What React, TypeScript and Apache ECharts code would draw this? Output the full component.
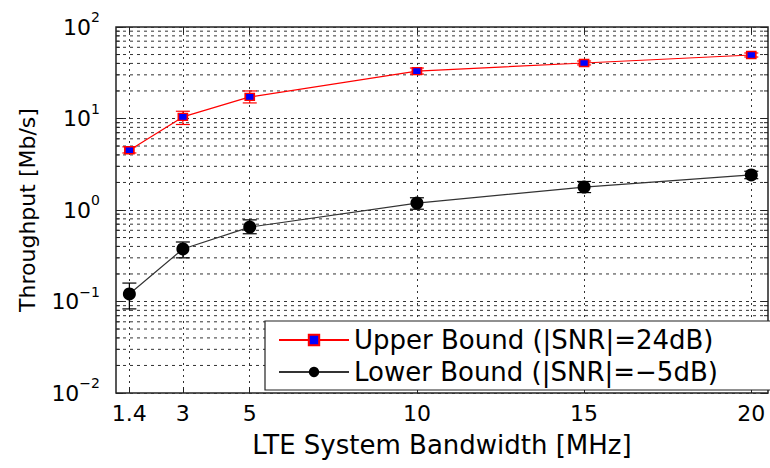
import React, { useEffect, useRef } from "react";
import * as echarts from "echarts";

const xTicks = [1.4, 3, 5, 10, 15, 20];
const bandwidth = [1.4, 3, 5, 10, 15, 20];
const upperMean = [4.5, 10.4, 17.2, 33, 40.4, 49.4];
const upperLow = [4.2, 8.6, 14.8, 30.6, 38.5, 47];
const upperHigh = [4.9, 12.0, 20.0, 35.6, 42.5, 52];
const lowerMean = [0.121, 0.375, 0.65, 1.19, 1.78, 2.42];
const lowerLow = [0.083, 0.3, 0.55, 1.02, 1.55, 2.2];
const lowerHigh = [0.159, 0.447, 0.78, 1.36, 2.05, 2.65];
const yMinorValues = [
  0.02, 0.03, 0.04, 0.05, 0.06, 0.07, 0.08, 0.09,
  0.2, 0.3, 0.4, 0.5, 0.6, 0.7, 0.8, 0.9,
  2, 3, 4, 5, 6, 7, 8, 9,
  20, 30, 40, 50, 60, 70, 80, 90,
];
const upperName = "Upper Bound (|SNR|=24dB)";
const lowerName = "Lower Bound (|SNR|=\u22125dB)";

const FONT = "DejaVu Sans";
const X_MIN = 1;
const X_MAX = 20.5;
const GRID_COLOR = "#333";

function errorBarSeries(lo: number[], hi: number[], color: string) {
  return {
    type: "custom",
    silent: true,
    z: 3,
    data: bandwidth.map((x, i) => [x, lo[i], hi[i]]),
    encode: { x: 0, y: [1, 2] },
    renderItem: (params: any, api: any) => {
      const p1 = api.coord([api.value(0), api.value(1)]);
      const p2 = api.coord([api.value(0), api.value(2)]);
      const x = p1[0];
      const hw = 7;
      const style = { stroke: color, lineWidth: 1.2 };
      return {
        type: "group",
        children: [
          { type: "line", shape: { x1: x, y1: p1[1], x2: x, y2: p2[1] }, style },
          { type: "line", shape: { x1: x - hw, y1: p1[1], x2: x + hw, y2: p1[1] }, style },
          { type: "line", shape: { x1: x - hw, y1: p2[1], x2: x + hw, y2: p2[1] }, style },
        ],
      };
    },
  };
}

export default function App() {
  const ref = useRef<HTMLDivElement>(null);
  useEffect(() => {
    if (!ref.current) return;
    const chart = echarts.init(ref.current, null, { renderer: "svg" });
    const yLabelFormatter = (v: number) => {
      const e = Math.round(Math.log10(v));
      const s = e < 0 ? "\u2212" + Math.abs(e) : String(e);
      return `{b|10}{s|${s}}`;
    };
    const yRich = {
      b: { fontSize: 22, fontFamily: FONT, color: "#000", verticalAlign: "middle" },
      s: { fontSize: 14, fontFamily: FONT, color: "#000", verticalAlign: "bottom", padding: [0, 0, 20, 0] },
    };
    const option: any = {
      animation: false,
      backgroundColor: "#fff",
      textStyle: { fontFamily: FONT },
      grid: {
        left: 116,
        right: 2,
        top: 27,
        bottom: 75,
        show: true,
        borderColor: "#222",
        borderWidth: 1.5,
        backgroundColor: "transparent",
      },
      legend: {
        orient: "vertical",
        left: 265,
        top: 321,
        data: [upperName, lowerName],
        itemWidth: 70,
        itemHeight: 13,
        itemGap: 6,
        padding: [6, 77, 5, 13],
        backgroundColor: "#fff",
        borderColor: "#222",
        borderWidth: 1.2,
        borderRadius: 0,
        textStyle: { fontSize: 26, fontFamily: FONT, color: "#000" },
        z: 10,
      },
      xAxis: [
        {
          type: "value",
          min: X_MIN,
          max: X_MAX,
          name: "LTE System Bandwidth [MHz]",
          nameLocation: "middle",
          nameGap: 39,
          nameTextStyle: { fontSize: 26, fontFamily: FONT, color: "#000" },
          axisLine: { show: false },
          axisTick: { show: true, inside: true, length: 6, customValues: xTicks, lineStyle: { color: "#222" } },
          axisLabel: {
            customValues: xTicks,
            fontSize: 22,
            fontFamily: FONT,
            color: "#000",
            margin: 9,
            formatter: (v: number) => String(v),
          },
          splitLine: { show: true, lineStyle: { color: GRID_COLOR, type: [2, 4], width: 1 } },
        },
        {
          type: "value",
          position: "top",
          min: X_MIN,
          max: X_MAX,
          axisLine: { show: false },
          axisTick: { show: true, inside: true, length: 6, customValues: xTicks, lineStyle: { color: "#222" } },
          axisLabel: { show: false },
          splitLine: { show: false },
        },
      ],
      yAxis: [
        {
          type: "log",
          logBase: 10,
          min: 0.01,
          max: 100,
          name: "Throughput [Mb/s]",
          nameLocation: "middle",
          nameGap: 78,
          nameTextStyle: { fontSize: 22, fontFamily: FONT, color: "#000" },
          axisLine: { show: false },
          axisTick: { show: true, inside: true, length: 7, lineStyle: { color: "#222" } },
          axisLabel: { formatter: yLabelFormatter, rich: yRich, margin: 16 },
          splitLine: { show: true, lineStyle: { color: GRID_COLOR, type: [3, 4], width: 1 } },
        },
        {
          type: "log",
          logBase: 10,
          min: 0.01,
          max: 100,
          position: "right",
          axisLine: { show: false },
          axisTick: { show: true, inside: true, length: 7, lineStyle: { color: "#222" } },
          axisLabel: { show: false },
          splitLine: { show: false },
        },
      ],
      series: [
        {
          type: "custom",
          silent: true,
          z: 1,
          data: yMinorValues.map((v) => [X_MIN, v]),
          encode: { x: 0, y: 1 },
          renderItem: (params: any, api: any) => {
            const cs = params.coordSys;
            const y = api.coord([api.value(0), api.value(1)])[1];
            return {
              type: "group",
              children: [
                {
                  type: "line",
                  shape: { x1: cs.x, y1: y, x2: cs.x + cs.width, y2: y },
                  style: { stroke: GRID_COLOR, lineWidth: 1, lineDash: [3, 4] },
                },
                {
                  type: "line",
                  shape: { x1: cs.x, y1: y, x2: cs.x + 4, y2: y },
                  style: { stroke: "#222", lineWidth: 1 },
                },
                {
                  type: "line",
                  shape: { x1: cs.x + cs.width - 4, y1: y, x2: cs.x + cs.width, y2: y },
                  style: { stroke: "#222", lineWidth: 1 },
                },
              ],
            };
          },
        },
        errorBarSeries(upperLow, upperHigh, "#ff0000"),
        errorBarSeries(lowerLow, lowerHigh, "#000"),
        {
          name: upperName,
          type: "line",
          z: 4,
          data: bandwidth.map((x, i) => [x, upperMean[i]]),
          symbol: "rect",
          symbolSize: [9, 7],
          lineStyle: { color: "#ff0000", width: 1.2 },
          itemStyle: { color: "#0000ff", borderColor: "#ff0000", borderWidth: 1.5 },
        },
        {
          name: lowerName,
          type: "line",
          z: 4,
          data: bandwidth.map((x, i) => [x, lowerMean[i]]),
          symbol: "circle",
          symbolSize: 13,
          lineStyle: { color: "#333", width: 1.2 },
          itemStyle: { color: "#000" },
        },
      ],
    };
    chart.setOption(option);
    return () => chart.dispose();
  }, []);
  return (
    <div
      ref={ref}
      style={{ position: "fixed", left: 0, top: 0, width: 770, height: 468, background: "#fff" }}
    />
  );
}
